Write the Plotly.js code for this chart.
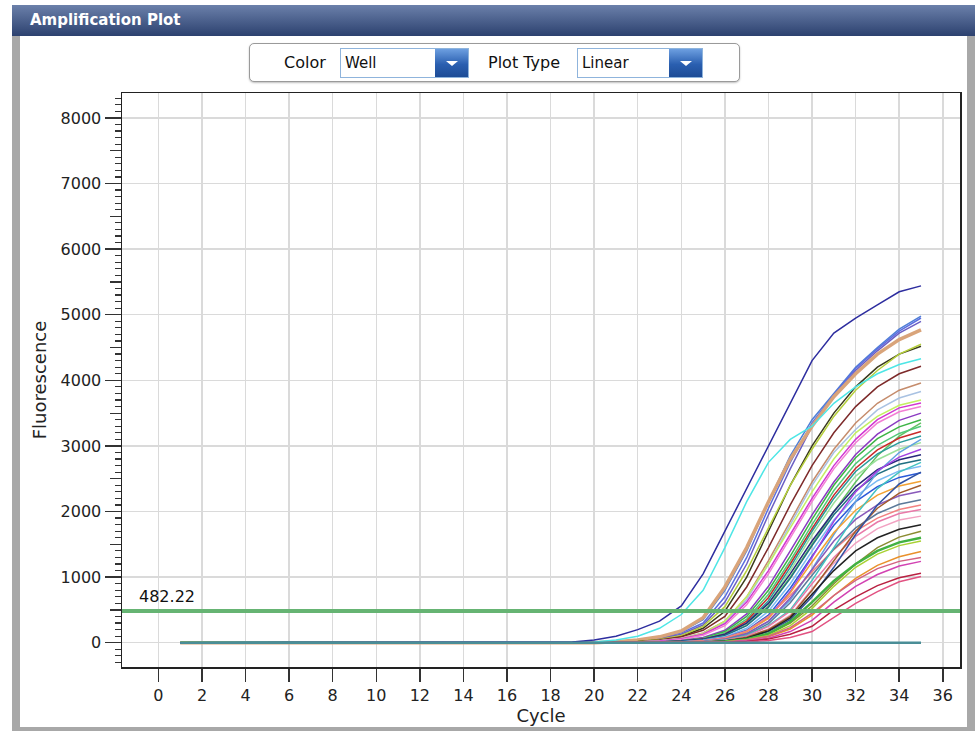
<!DOCTYPE html>
<html><head><meta charset="utf-8">
<script src="https://cdn.plot.ly/plotly-3.0.1.min.js"></script>
<style>
html,body{margin:0;padding:0;background:#fff;}
#wrap{position:relative;width:975px;height:731px;overflow:hidden;background:#fff;font-family:"DejaVu Sans",sans-serif;}
#hdr{position:absolute;left:12px;top:5px;width:963px;height:31px;background:linear-gradient(#6b80aa,#2c416f);z-index:3;}
#hdr span{position:absolute;left:18px;top:6px;color:#fff;font-size:15px;font-weight:bold;}
#lb{position:absolute;left:12px;top:36px;width:8px;height:695px;background:#a8a8a8;}
#rb{position:absolute;left:967px;top:36px;width:8px;height:695px;background:#a8a8a8;}
#bb{position:absolute;left:12px;top:727px;width:963px;height:4px;background:#a8a8a8;}
#ctl{position:absolute;left:249px;top:43px;width:489px;height:37px;border:1px solid #9a9a9a;border-radius:5px;background:#fff;box-shadow:0 1px 2px rgba(0,0,0,.25);z-index:3;}
.lbl{position:absolute;top:9px;font-size:16px;color:#111;}
.dd{position:absolute;top:4px;height:28px;border:1px solid #8fb4dc;background:#fff;}
.dd span{position:absolute;left:4px;top:5px;font-size:15px;color:#111;}
.btn{position:absolute;right:0;top:0;width:33px;height:28px;background:linear-gradient(#6d9fe0,#2a5fb0 55%,#1d4c96);}
.btn:after{content:"";position:absolute;left:11px;top:12px;border-left:6px solid transparent;border-right:6px solid transparent;border-top:5px solid #fff;}
#chart{position:absolute;left:0;top:0;width:975px;height:731px;z-index:2;}
</style></head>
<body>
<div id="wrap">
  <div id="lb"></div><div id="rb"></div><div id="bb"></div>
  <div id="hdr"><span>Amplification Plot</span></div>
  <div id="ctl">
    <div class="lbl" style="left:34px">Color</div>
    <div class="dd" style="left:90px;width:127px"><span>Well</span><div class="btn"></div></div>
    <div class="lbl" style="left:238px">Plot Type</div>
    <div class="dd" style="left:327px;width:124px"><span>Linear</span><div class="btn"></div></div>
  </div>
  <div id="chart"></div>
</div>
<script>
// ---- data ----
const cycles = [1,2,3,4,5,6,7,8,9,10,11,12,13,14,15,16,17,18,19,20,21,22,23,24,25,26,27,28,29,30,31,32,33,34,35];
const threshold = 482.22;
const ntc = [0,0,0,0,0,0,0,0,0,0,0,0,0,0,0,0,0,0,0,0,0,0,0,0,0,0,0,0,0,0,0,0,0,0,0];

const w01 = [0,0,0,0,0,0,0,0,0,0,0,0,0,0,0,0,0, 0,10,40,100,200,330,560,1050,1700,2350,2980,3650,4300,4720,4950,5150,5350,5440];
const w02 = [0,0,0,0,0,0,0,0,0,0,0,0,0,0,0,0,0, 0,0,10,40,100,220,430,800,1450,2150,2750,3100,3300,3650,3900,4100,4240,4330];
const w03 = [0,0,0,0,0,0,0,0,0,0,0,0,0,0,0,0,0, 0,0,0,15,35,80,170,350,800,1400,2150,2850,3400,3800,4200,4500,4780,4980];
const w04 = [0,0,0,0,0,0,0,0,0,0,0,0,0,0,0,0,0, 0,0,0,10,30,70,150,300,700,1300,2050,2750,3350,3780,4180,4480,4750,4950];
const w05 = [0,0,0,0,0,0,0,0,0,0,0,0,0,0,0,0,0, 0,0,0,10,25,60,130,270,620,1200,1950,2650,3300,3750,4150,4450,4720,4900];
const w06 = [0,0,0,0,0,0,0,0,0,0,0,0,0,0,0,0,0, 0,0,0,15,40,90,180,380,850,1450,2150,2800,3300,3750,4100,4400,4620,4770];
const w07 = [0,0,0,0,0,0,0,0,0,0,0,0,0,0,0,0,0, 0,0,0,5,20,45,100,220,480,1000,1700,2400,3000,3500,3900,4200,4400,4520];
const w08 = [0,0,0,0,0,0,0,0,0,0,0,0,0,0,0,0,0, 0,0,0,5,20,50,110,250,550,1100,1750,2400,2950,3450,3850,4150,4400,4550];
const w09 = [0,0,0,0,0,0,0,0,0,0,0,0,0,0,0,0,0, 0,0,0,0,15,40,90,190,400,850,1450,2100,2700,3200,3600,3900,4100,4215];
const w10 = [0,0,0,0,0,0,0,0,0,0,0,0,0,0,0,0,0, 0,0,0,0,10,30,70,150,330,700,1250,1850,2450,2950,3350,3650,3850,3960];
const w11 = [0,0,0,0,0,0,0,0,0,0,0,0,0,0,0,0,0, 0,0,0,0,10,30,65,140,310,660,1200,1800,2400,2900,3250,3550,3730,3830];
const w12 = [0,0,0,0,0,0,0,0,0,0,0,0,0,0,0,0,0, 0,0,0,0,10,25,60,130,290,620,1100,1650,2200,2700,3100,3400,3580,3655];
const w13 = [0,0,0,0,0,0,0,0,0,0,0,0,0,0,0,0,0, 0,0,0,0,8,20,50,115,260,580,1050,1600,2150,2650,3050,3350,3520,3600];
const w14 = [0,0,0,0,0,0,0,0,0,0,0,0,0,0,0,0,0, 0,0,0,0,0,15,35,80,190,440,860,1400,1950,2450,2870,3180,3390,3500];
const w15 = [0,0,0,0,0,0,0,0,0,0,0,0,0,0,0,0,0, 0,0,0,0,0,12,30,70,170,400,800,1320,1880,2400,2820,3110,3290,3400];
const w16 = [0,0,0,0,0,0,0,0,0,0,0,0,0,0,0,0,0, 0,0,0,0,0,10,25,60,150,360,740,1250,1800,2320,2730,3010,3190,3300];
const w17 = [0,0,0,0,0,0,0,0,0,0,0,0,0,0,0,0,0, 0,0,0,0,0,8,22,55,130,330,690,1200,1740,2250,2660,2940,3120,3220];
const w18 = [0,0,0,0,0,0,0,0,0,0,0,0,0,0,0,0,0, 0,0,0,0,0,8,20,50,120,300,640,1150,1700,2200,2610,2880,3050,3150];
const w19 = [0,0,0,0,0,0,0,0,0,0,0,0,0,0,0,0,0, 0,0,0,0,0,5,18,45,110,280,600,1100,1640,2130,2540,2790,2950,3050];
const w20 = [0,0,0,0,0,0,0,0,0,0,0,0,0,0,0,0,0, 0,0,0,0,0,10,25,55,130,300,600,1050,1550,2000,2380,2640,2790,2865];
const w21 = [0,0,0,0,0,0,0,0,0,0,0,0,0,0,0,0,0, 0,0,0,0,0,8,20,45,110,260,540,980,1480,1950,2320,2570,2720,2790];
const w22 = [0,0,0,0,0,0,0,0,0,0,0,0,0,0,0,0,0, 0,0,0,0,0,5,15,38,90,220,480,900,1400,1870,2230,2470,2620,2690];
const w23 = [0,0,0,0,0,0,0,0,0,0,0,0,0,0,0,0,0, 0,0,0,0,0,5,12,30,75,190,420,830,1320,1790,2150,2380,2520,2590];
const w24 = [0,0,0,0,0,0,0,0,0,0,0,0,0,0,0,0,0, 0,0,0,0,0,0,10,25,65,165,370,760,1230,1680,2020,2250,2390,2460];
const w25 = [0,0,0,0,0,0,0,0,0,0,0,0,0,0,0,0,0, 0,0,0,0,0,0,8,20,55,140,330,680,1120,1550,1880,2100,2240,2310];
const w26 = [0,0,0,0,0,0,0,0,0,0,0,0,0,0,0,0,0, 0,0,0,0,0,0,5,15,45,120,290,610,1030,1430,1750,1970,2110,2180];
const w27 = [0,0,0,0,0,0,0,0,0,0,0,0,0,0,0,0,0, 0,0,0,0,0,0,5,12,38,100,250,480,900,1300,1620,1840,1970,2030];
const w28 = [0,0,0,0,0,0,0,0,0,0,0,0,0,0,0,0,0, 0,0,0,0,0,0,0,10,30,85,210,420,820,1210,1520,1740,1870,1930];
const w29 = [0,0,0,0,0,0,0,0,0,0,0,0,0,0,0,0,0, 0,0,0,0,0,0,0,8,25,70,180,380,740,1100,1400,1600,1730,1800];
const w30 = [0,0,0,0,0,0,0,0,0,0,0,0,0,0,0,0,0, 0,0,0,0,0,0,0,5,20,55,140,320,620,940,1200,1400,1530,1600];
const w31 = [0,0,0,0,0,0,0,0,0,0,0,0,0,0,0,0,0, 0,0,0,0,0,0,0,0,15,45,110,260,520,860,1150,1350,1480,1550];
const w32 = [0,0,0,0,0,0,0,0,0,0,0,0,0,0,0,0,0, 0,0,0,0,0,0,0,0,10,35,90,210,420,720,980,1180,1310,1390];
const w33 = [0,0,0,0,0,0,0,0,0,0,0,0,0,0,0,0,0, 0,0,0,0,0,0,0,0,8,25,70,170,340,620,860,1040,1170,1240];
const w34 = [0,0,0,0,0,0,0,0,0,0,0,0,0,0,0,0,0, 0,0,0,0,0,0,0,0,5,20,55,130,250,500,700,870,990,1060];
const w35 = [0,0,0,0,0,0,0,0,0,0,0,0,0,0,0,0,0, 0,0,0,0,0,0,0,0,0,10,35,80,170,380,600,780,930,1010];
const w36 = [0,0,0,0,0,0,0,0,0,0,0,0,0,0,0,0,0, 0,0,0,0,0,8,20,45,110,270,560,1000,1500,2000,2450,2850,3150,3350];
const w37 = [0,0,0,0,0,0,0,0,0,0,0,0,0,0,0,0,0, 0,0,0,0,10,25,60,140,330,700,1200,1750,2300,2800,3200,3450,3620,3700];
const w38 = [0,0,0,0,0,0,0,0,0,0,0,0,0,0,0,0,0, 0,0,0,0,0,0,10,25,65,170,380,780,1300,1850,2300,2620,2830,2950];
const w39 = [0,0,0,0,0,0,0,0,0,0,0,0,0,0,0,0,0, 0,0,0,0,0,5,12,30,75,180,400,720,1080,1420,1700,1900,2030,2100];
const w40 = [0,0,0,0,0,0,0,0,0,0,0,0,0,0,0,0,0, 0,0,0,0,0,0,5,15,40,110,260,500,950,1450,1950,2350,2600,2750];
const w41 = [0,0,0,0,0,0,0,0,0,0,0,0,0,0,0,0,0, 0,0,0,0,0,0,0,10,30,85,200,400,800,1250,1700,2050,2280,2400];
const w42 = [0,0,0,0,0,0,0,0,0,0,0,0,0,0,0,0,0, 0,0,0,0,0,0,0,5,18,50,130,300,560,900,1200,1450,1610,1700];
const w43 = [0,0,0,0,0,0,0,0,0,0,0,0,0,0,0,0,0, 0,0,0,0,0,0,0,8,25,70,170,350,700,1150,1650,2100,2420,2600];
const w44 = [0,0,0,0,0,0,0,0,0,0,0,0,0,0,0,0,0, 0,0,0,0,0,0,0,0,12,40,100,230,450,720,950,1130,1240,1300];
const w45 = [0,0,0,0,0,0,0,0,0,0,0,0,0,0,0,0,0, 0,0,0,0,0,0,8,20,55,140,320,650,1120,1650,2150,2600,2900,3100];

const wells = [w03,w04,w05,w06,w07,w08,w09,w10,w11,w37,w12,w13,w14,w36,w15,w16,w17,w18,w19,w20,w21,w22,w23,w45,w38,w24,w39,w25,w26,w40,w27,w28,w41,w43,w29,w42,w30,w31,w32,w44,w33,w34,w35,w02,w01];
const wellColors = ['#4f7fd6','#5b6fe0','#6b5fc4','#d9a47a','#3b3b1e','#b5cf3c','#7d2a2a','#c58c6c','#a9c2e2','#c3f063','#d236d2','#f27fd4','#8b3bc2','#62c262','#3db445','#52c97a','#c92a2a','#2b9b9b','#9ae09a','#29297c','#206f82','#7bbaf2','#2b5bd9','#62a2e2','#a242e2','#f2a232','#f28282','#8959ba','#5b7999','#42c2c2','#e97aa9','#f2a2c2','#a25b2b','#3152a2','#222222','#8b8b31','#42b242','#a9d132','#e9912b','#d26282','#d242b2','#b92142','#e25282','#4ee6e6','#2d2d9f'];
const wellWidths = [1.5,1.5,1.5,3.5,1.5,1.5,1.5,1.5,1.5,1.5,1.5,1.5,1.5,1.5,1.5,1.5,1.5,1.5,1.5,1.5,1.5,1.5,1.5,1.5,1.5,1.5,1.5,1.5,1.5,1.5,1.5,1.5,1.5,1.5,1.5,1.5,2.5,1.5,1.5,1.5,1.5,1.5,1.5,1.5,1.5];

const FONT = 'DejaVu Sans, sans-serif';
const traces = wells.map((y,i)=>({type:'scatter',mode:'lines',x:cycles,y:y,
  line:{color:wellColors[i],width:wellWidths[i]},hoverinfo:'skip',showlegend:false}));
traces.push({type:'scatter',mode:'lines',x:cycles,y:ntc,line:{color:'#4a8e97',width:2.5},hoverinfo:'skip',showlegend:false});
traces.push({type:'scatter',mode:'lines',x:[],y:[],yaxis:'y2',hoverinfo:'skip',showlegend:false});

const yr = [-370,8380];
const layout = {
  width:975,height:731,
  margin:{l:122,r:15,t:93,b:64},
  paper_bgcolor:'rgba(0,0,0,0)',plot_bgcolor:'#ffffff',showlegend:false,
  font:{family:FONT,color:'#222'},
  xaxis:{range:[-1.67,36.79],tickmode:'linear',tick0:0,dtick:2,ticks:'outside',ticklen:13,tickwidth:1.5,tickcolor:'#333',
    showgrid:true,gridcolor:'#dadada',gridwidth:1.5,showline:true,linecolor:'#222',linewidth:1.5,mirror:true,zeroline:false,
    tickfont:{family:FONT,size:16,color:'#222'},
    title:{text:'Cycle',font:{family:FONT,size:18,color:'#222'},standoff:2}},
  yaxis:{range:yr,tickmode:'linear',tick0:0,dtick:1000,ticks:'outside',ticklen:16,tickwidth:1.5,tickcolor:'#333',
    showgrid:true,gridcolor:'#dadada',gridwidth:1.5,showline:true,linecolor:'#222',linewidth:1.5,mirror:true,zeroline:false,
    minor:{tick0:0,dtick:100,ticks:'outside',ticklen:6,tickwidth:1.2,tickcolor:'#333',showgrid:false},
    tickfont:{family:FONT,size:16,color:'#222'},
    title:{text:'Fluorescence',font:{family:FONT,size:18,color:'#222'},standoff:9}},
  yaxis2:{overlaying:'y',side:'left',anchor:'x',range:yr,tickmode:'linear',tick0:500,dtick:1000,ticks:'outside',ticklen:11,
    tickwidth:1.2,tickcolor:'#333',showticklabels:false,showgrid:false,showline:false,zeroline:false},
  shapes:[{type:'line',xref:'paper',x0:0,x1:1,yref:'y',y0:threshold,y1:threshold,line:{color:'#66b473',width:4},layer:'above'}],
  annotations:[{xref:'paper',x:0.018,xanchor:'left',yref:'y',y:threshold,yanchor:'bottom',yshift:3,
    text:threshold.toFixed(2),showarrow:false,font:{family:FONT,size:16,color:'#111'}}]
};
Plotly.newPlot('chart',traces,layout,{displayModeBar:false,staticPlot:true});
</script>
</body></html>
